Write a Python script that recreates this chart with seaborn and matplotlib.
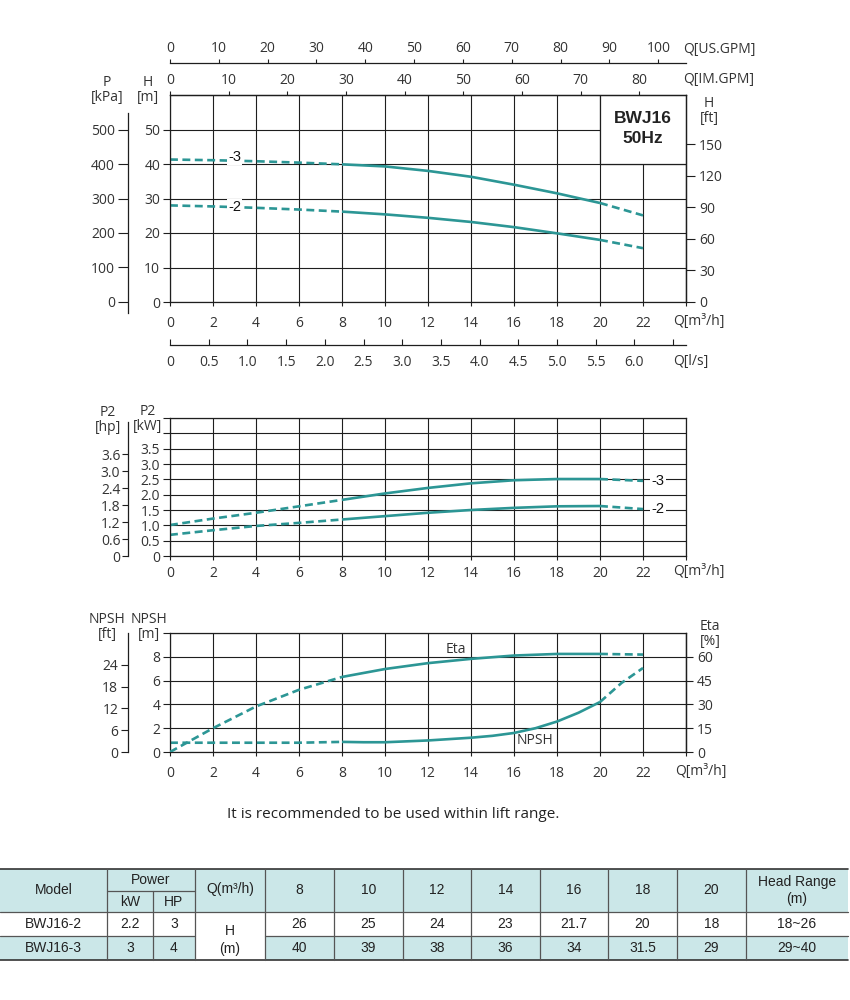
import numpy as np
import pandas as pd
import matplotlib
matplotlib.use("Agg")
import matplotlib.pyplot as plt
import seaborn as sns
from matplotlib.patches import Rectangle

# pump curves, Q in m3/h
q = [0, 2, 4, 6, 8, 10, 12, 14, 16, 18, 20, 22]
head_3 = [41.3, 41.1, 40.8, 40.4, 39.9, 39.3, 38.0, 36.3, 34.0, 31.5, 28.7, 25.1]
head_2 = [28.0, 27.7, 27.3, 26.8, 26.2, 25.4, 24.4, 23.2, 21.7, 19.9, 18.0, 15.6]
p2_3 = [1.01, 1.22, 1.41, 1.62, 1.83, 2.04, 2.22, 2.37, 2.47, 2.51, 2.51, 2.45]
p2_2 = [0.69, 0.84, 0.98, 1.08, 1.19, 1.30, 1.41, 1.50, 1.57, 1.62, 1.63, 1.53]
eta = [0, 15.0, 28.7, 39.2, 47.3, 52.3, 56.0, 58.7, 60.8, 61.8, 61.8, 61.4]
q_npsh = [0, 2, 4, 6, 8, 9, 10, 12, 14, 15, 16, 17, 18, 19, 20, 21, 22]
npsh = [0.78, 0.78, 0.78, 0.78, 0.85, 0.82, 0.82, 0.97, 1.2, 1.36, 1.6, 2.0, 2.56, 3.3, 4.2, 5.8, 7.06]

# table
models = ["BWJ16-2", "BWJ16-3"]
power_kw = ["2.2", "3"]
power_hp = ["3", "4"]
table_q = ["8", "10", "12", "14", "16", "18", "20"]
table_h = [["26", "25", "24", "23", "21.7", "20", "18"],
           ["40", "39", "38", "36", "34", "31.5", "29"]]
head_range = ["18~26", "29~40"]

sns.set_style("ticks")
plt.rcParams['font.family'] = ['Open Sans', 'DejaVu Sans']

TEAL = "#2c9695"
INK = "#1e1e1e"
TXT = "#333333"
FS = 10
W, H = 850, 1000


def box(l, t, r, b):
    return [l / W, 1 - b / H, (r - l) / W, (b - t) / H]


def ftext(x, y, s, **kw):
    kw.setdefault("fontsize", FS)
    kw.setdefault("color", TXT)
    kw.setdefault("ha", "center")
    kw.setdefault("va", "center")
    fig.text(x / W, 1 - y / H, s, linespacing=0.92, **kw)


def draw_curve(ax, x, y):
    df = pd.DataFrame({"Q": x, "v": y})
    dash = (0, (3.0, 1.7))
    parts = [(df.Q <= 8, dash), ((df.Q >= 8) & (df.Q <= 20), "-"), (df.Q >= 20, dash)]
    for mask, ls in parts:
        sns.lineplot(data=df[mask], x="Q", y="v", ax=ax, color=TEAL, lw=1.9,
                     linestyle=ls, solid_capstyle="butt", dash_capstyle="butt")
    ax.set_xlabel("")
    ax.set_ylabel("")


def grid_axes(ax, ymax, yticks, ylabels, xpad):
    ax.set_xlim(0, 24)
    ax.set_ylim(0, ymax)
    ax.set_xticks(np.arange(0, 25, 2))
    ax.set_xticklabels([str(v) for v in range(0, 23, 2)] + [""])
    ax.set_yticks(yticks)
    ax.set_yticklabels(ylabels)
    ax.grid(True, color=INK, lw=0.8)
    ax.set_axisbelow(True)
    for s in ax.spines.values():
        s.set_visible(True)
        s.set_color(INK)
        s.set_linewidth(0.9)
    ax.tick_params(axis="y", direction="out", length=5, width=0.8, color=INK,
                   labelsize=FS, labelcolor=TXT, pad=2)
    ax.tick_params(axis="x", direction="out", length=3, width=0.8, color=INK,
                   labelsize=FS, labelcolor=TXT, pad=xpad)


def style_sec(sec, side, length, pad=2, direction="out"):
    sec.tick_params(direction=direction, length=length, width=0.8, color=INK,
                    labelsize=FS, labelcolor=TXT, pad=pad)
    sec.spines[side].set_color(INK)
    sec.spines[side].set_linewidth(0.9)


fig = plt.figure(figsize=(8.5, 10), dpi=100)

# table layer underneath everything
axt = fig.add_axes([0, 0, 1, 1], zorder=-1)
axt.set_xlim(0, W)
axt.set_ylim(H, 0)
axt.axis("off")

# ---------------- head chart ----------------
ax1 = fig.add_axes(box(170, 95, 686, 302))
draw_curve(ax1, q, head_3)
draw_curve(ax1, q, head_2)
grid_axes(ax1, 60, np.arange(0, 51, 10), [str(v) for v in range(0, 51, 10)], 7)
ax1.add_patch(Rectangle((20, 40), 4, 20, fc="white", ec=INK, lw=0.9, zorder=1))
ax1.text(22, 50.3, "BWJ16\n50Hz", ha="center", va="center", fontsize=12.5,
         fontweight="bold", color="#222222", family=["Liberation Sans"], linespacing=1.45)
for lab, yv in [("-3", 41.9), ("-2", 27.5)]:
    ax1.text(3.0, yv, lab, ha="center", va="center", fontsize=10.5, color="#111111",
             family=["Liberation Sans"], zorder=3,
             bbox=dict(fc="white", ec="none", pad=0.6))

sec_p = ax1.secondary_yaxis(-42 / 516, functions=(lambda h: h * 10, lambda p: p / 10))
sec_p.set_yticks(np.arange(0, 501, 100))
style_sec(sec_p, "left", 7.5)
sec_p.spines["left"].set_bounds(-32, 548)

sec_ft = ax1.secondary_yaxis("right", functions=(lambda m: m * 3.28084, lambda f: f / 3.28084))
sec_ft.set_yticks(np.arange(0, 151, 30))
style_sec(sec_ft, "right", 6.5, pad=3)

sec_im = ax1.secondary_xaxis("top", functions=(lambda v: v * 3.6662, lambda g: g / 3.6662))
sec_im.set_xticks(np.arange(0, 81, 10))
style_sec(sec_im, "top", 3)

sec_us = ax1.secondary_xaxis(1 + 32 / 207, functions=(lambda v: v * 4.4029, lambda g: g / 4.4029))
sec_us.set_xticks(np.arange(0, 101, 10))
style_sec(sec_us, "top", 3)

sec_ls = ax1.secondary_xaxis(-43 / 207, functions=(lambda v: v / 3.6, lambda l: l * 3.6))
sec_ls.set_xticks(np.arange(0, 6.6, 0.5))
sec_ls.set_xticklabels(["0"] + [f"{v:.1f}" for v in np.arange(0.5, 6.1, 0.5)] + [""])
style_sec(sec_ls, "bottom", 4, pad=7, direction="in")

ftext(107, 90, "P\n[kPa]")
ftext(148, 90, "H\n[m]")
ftext(709, 111, "H\n[ft]")
ftext(683, 49, "Q[US.GPM]", ha="left")
ftext(683, 80, "Q[IM.GPM]", ha="left")
ftext(673, 321, "Q[m³/h]", ha="left")
ftext(673, 361, "Q[l/s]", ha="left")

# ---------------- power chart ----------------
ax2 = fig.add_axes(box(170, 418, 686, 556))
draw_curve(ax2, q, p2_3)
draw_curve(ax2, q, p2_2)
kw_ticks = np.arange(0, 4.6, 0.5)
grid_axes(ax2, 4.5, kw_ticks, ["0"] + [f"{v:.1f}" for v in kw_ticks[1:8]] + ["", ""], 4)
for lab, yv in [("-3", 2.45), ("-2", 1.53)]:
    ax2.text(22.7, yv, lab, ha="center", va="center", fontsize=10.5, color="#111111",
             family=["Liberation Sans"], zorder=3,
             bbox=dict(fc="white", ec="none", pad=0.8))

# the hp scale on the sheet is spaced a little wider than the kW grid
sec_hp = ax2.secondary_yaxis(-42 / 516, functions=(lambda k: k * 1.083, lambda h: h / 1.083))
sec_hp.set_yticks([0, 0.6, 1.2, 1.8, 2.4, 3.0, 3.6])
sec_hp.set_yticklabels(["0", "0.6", "1.2", "1.8", "2.4", "3.0", "3.6"])
style_sec(sec_hp, "left", 4.5, pad=1)
sec_hp.spines["left"].set_bounds(0, 4.73)

ftext(108, 420, "P2\n[hp]")
ftext(148, 419, "P2\n[kW]")
ftext(673, 572, "Q[m³/h]", ha="left")

# ---------------- NPSH / efficiency chart ----------------
ax3 = fig.add_axes(box(170, 633, 686, 752))
draw_curve(ax3, q_npsh, npsh)
grid_axes(ax3, 10, np.arange(0, 11, 2), ["0", "2", "4", "6", "8", ""], 7)
ax3.text(17.0, 1.0, "NPSH", ha="center", va="center", fontsize=FS, color=TXT)

ax3b = ax3.twinx()
draw_curve(ax3b, q, eta)
ax3b.set_ylim(0, 75)
ax3b.set_yticks(np.arange(0, 61, 15))
for s in ["left", "top", "bottom"]:
    ax3b.spines[s].set_visible(False)
style_sec(ax3b, "right", 5, pad=3)
ax3b.text(13.3, 64.5, "Eta", ha="center", va="center", fontsize=FS, color=TXT)

sec_nft = ax3.secondary_yaxis(-42 / 516, functions=(lambda m: m * 3.28084, lambda f: f / 3.28084))
sec_nft.set_yticks(np.arange(0, 25, 6))
style_sec(sec_nft, "left", 5)

ftext(107, 627, "NPSH\n[ft]")
ftext(149, 627, "NPSH\n[m]")
ftext(710, 634, "Eta\n[%]")
ftext(675, 771, "Q[m³/h]", ha="left")

ftext(393, 814, "It is recommended to be used within lift range.", fontsize=11, color="#222222")

# ---------------- data table ----------------
SHADE = "#cbe7e8"
LINE = "#555555"
col_x = [0, 107, 153, 195, 265, 334, 403, 471, 540, 608, 677, 746, 848]
y_top, y_mid, y_head, y_row, y_bot = 869, 891, 912, 936, 960
axt.add_patch(Rectangle((0, y_top), 848, y_head - y_top, fc=SHADE, ec="none"))
axt.add_patch(Rectangle((0, y_row), 195, y_bot - y_row, fc=SHADE, ec="none"))
axt.add_patch(Rectangle((265, y_row), 848 - 265, y_bot - y_row, fc=SHADE, ec="none"))
axt.plot([0, 848], [y_top, y_top], color="#333333", lw=1.2)
axt.plot([0, 848], [y_head, y_head], color=LINE, lw=0.9)
axt.plot([0, 195], [y_row, y_row], color=LINE, lw=0.9)
axt.plot([265, 848], [y_row, y_row], color=LINE, lw=0.9)
axt.plot([0, 848], [y_bot, y_bot], color="#333333", lw=1.2)
axt.plot([107, 195], [y_mid, y_mid], color=LINE, lw=0.9)
for xv in col_x[1:-1]:
    y0 = y_mid if xv == 153 else y_top
    axt.plot([xv, xv], [y0, y_bot], color=LINE, lw=0.9)

tkw = dict(ha="center", va="center", fontsize=10, color="#222222",
           family=["Liberation Sans", "DejaVu Sans"])
axt.text(53.5, 890.5, "Model", **tkw)
axt.text(151, 880, "Power", **tkw)
axt.text(130, 901.5, "kW", **tkw)
axt.text(174, 901.5, "HP", **tkw)
axt.text(230, 889, "Q(m³/h)", **tkw)
for i, qv in enumerate(table_q):
    axt.text((col_x[4 + i] + col_x[5 + i]) / 2, 890.5, qv, **tkw)
axt.text(797, 890.5, "Head Range\n(m)", linespacing=1.25, **tkw)
axt.text(230, 940, "H\n(m)", linespacing=1.3, **tkw)
for r, yc in enumerate([924, 948]):
    axt.text(53.5, yc, models[r], **tkw)
    axt.text(130, yc, power_kw[r], **tkw)
    axt.text(174, yc, power_hp[r], **tkw)
    for i, hv in enumerate(table_h[r]):
        axt.text((col_x[4 + i] + col_x[5 + i]) / 2, yc, hv, **tkw)
    axt.text(797, yc, head_range[r], **tkw)

fig.savefig("out.png", dpi=100, facecolor="white")
